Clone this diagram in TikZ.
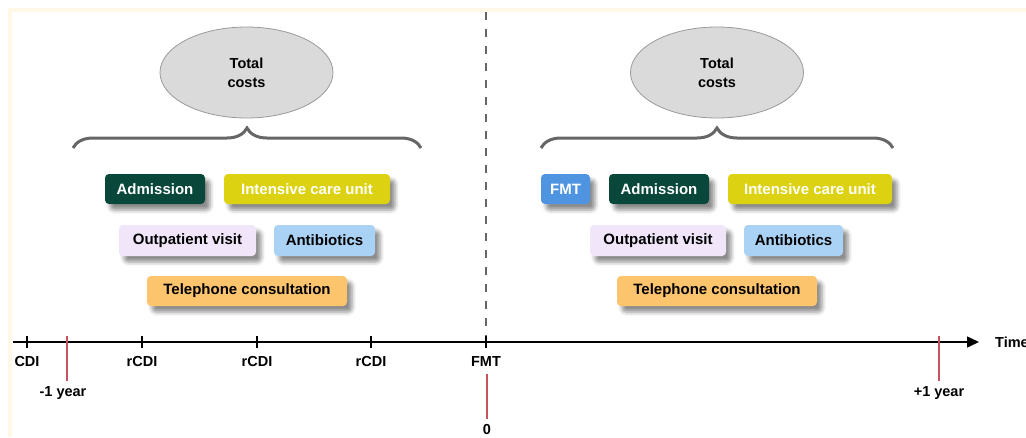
\documentclass[tikz,border=0pt]{standalone}
\usepackage{fontspec}
\setmainfont{Liberation Sans}
\usetikzlibrary{shapes.geometric,decorations.pathreplacing,arrows.meta,shadows.blur}
\definecolor{framec}{HTML}{FFF8E6}
\definecolor{darkgreen}{HTML}{08473A}
\definecolor{icuyellow}{HTML}{DCD211}
\definecolor{lavender}{HTML}{F1E6F9}
\definecolor{lightblue}{HTML}{AAD2F4}
\definecolor{orangebox}{HTML}{FCC46C}
\definecolor{fmtblue}{HTML}{4F94E0}
\definecolor{ellfill}{HTML}{DADADA}
\definecolor{ellline}{HTML}{9A9A9A}
\definecolor{bracec}{HTML}{666666}
\definecolor{redline}{HTML}{C4545E}
\begin{document}
\begin{tikzpicture}[x=1pt,y=-1pt,
  costbox/.style={rounded corners=4pt, minimum height=30pt, inner sep=0pt,
    font=\fontsize{15}{18}\selectfont\bfseries,
    blur shadow={shadow xshift=5pt, shadow yshift=-6pt, shadow blur radius=4pt, shadow opacity=45}},
  totalell/.style={ellipse, fill=ellfill, draw=ellline, line width=0.8pt,
    minimum width=173pt, minimum height=91pt, inner sep=0pt, align=center,
    font=\fontsize{14.5}{19}\selectfont\bfseries},
  bracepath/.style={draw=bracec, line width=3pt,
    decorate, decoration={brace, amplitude=20pt}},
  axislbl/.style={font=\fontsize{14.5}{17}\selectfont\bfseries, inner sep=0pt},
  tickmark/.style={line width=1.3pt},
  yearmark/.style={draw=redline, line width=1.6pt},
]
\useasboundingbox (0,0) rectangle (1026,437);
% faint frame
\fill[framec] (8,8) rectangle (1026,12);
\fill[framec] (8,8) rectangle (12,437);

% left panel
\node[totalell] (tcL) at (246.5,72.5) {Total\\costs};
\coordinate (bL1) at (73,148);
\coordinate (bL2) at (421,148);
\draw[bracepath] (bL1) -- (bL2);
\node[costbox, fill=darkgreen, text=white, minimum width=100pt] (admL) at (155,189) {Admission};
\node[costbox, fill=icuyellow, text=white, minimum width=166pt] (icuL) at (307,189) {Intensive care unit};
\node[costbox, fill=lavender, text=black, minimum width=137pt, minimum height=31pt] (outL) at (187.5,240.5) {Outpatient visit};
\node[costbox, fill=lightblue, text=black, minimum width=101pt, minimum height=31pt] (antL) at (324.5,240.5) {Antibiotics};
\node[costbox, fill=orangebox, text=black, minimum width=200pt] (telL) at (247,291) {Telephone consultation};

% right panel
\node[totalell] (tcR) at (717,72.5) {Total\\costs};
\coordinate (bR1) at (541,148);
\coordinate (bR2) at (893,148);
\draw[bracepath] (bR1) -- (bR2);
\node[costbox, fill=fmtblue, text=white, minimum width=49pt] (fmtR) at (565.5,189) {FMT};
\node[costbox, fill=darkgreen, text=white, minimum width=100pt] (admR) at (659,189) {Admission};
\node[costbox, fill=icuyellow, text=white, minimum width=164pt] (icuR) at (810,189) {Intensive care unit};
\node[costbox, fill=lavender, text=black, minimum width=136pt, minimum height=31pt] (outR) at (658,240.5) {Outpatient visit};
\node[costbox, fill=lightblue, text=black, minimum width=99pt, minimum height=31pt] (antR) at (793.5,240.5) {Antibiotics};
\node[costbox, fill=orangebox, text=black, minimum width=200pt] (telR) at (717,291) {Telephone consultation};

% dashed divider
\coordinate (dTop) at (486,12);
\coordinate (dBot) at (486,336);
\draw[draw=bracec, line width=1.5pt, dash pattern=on 8pt off 9pt] (dTop) -- (dBot);

% time axis
\coordinate (axS) at (13,342);
\coordinate (axE) at (979,342);
\draw[line width=1.5pt, -{Triangle[length=12pt,width=11pt]}] (axS) -- (axE);
\node[axislbl, anchor=west] (time) at (995,342) {Time};

% ticks
\foreach \nm/\xx in {t0/27, t1/142, t2/257, t3/371, t4/486}{
  \coordinate (\nm a) at (\xx,336);
  \coordinate (\nm b) at (\xx,348);
  \draw[tickmark] (\nm a) -- (\nm b);
}
\node[axislbl] (lCDI) at (27,362) {CDI};
\node[axislbl] (lr1) at (142,362) {rCDI};
\node[axislbl] (lr2) at (257,362) {rCDI};
\node[axislbl] (lr3) at (371,362) {rCDI};
\node[axislbl] (lFMT) at (486,362) {FMT};

% year markers
\coordinate (m1a) at (67,336);
\coordinate (m1b) at (67,381);
\draw[yearmark] (m1a) -- (m1b);
\node[axislbl] (lm1) at (63,393) {-1 year};

\coordinate (z0a) at (487,374);
\coordinate (z0b) at (487,419);
\draw[yearmark] (z0a) -- (z0b);
\node[axislbl] (l0) at (487,430) {0};

\coordinate (p1a) at (939,336);
\coordinate (p1b) at (939,381);
\draw[yearmark] (p1a) -- (p1b);
\node[axislbl] (lp1) at (939,393) {+1 year};
\end{tikzpicture}
\end{document}
